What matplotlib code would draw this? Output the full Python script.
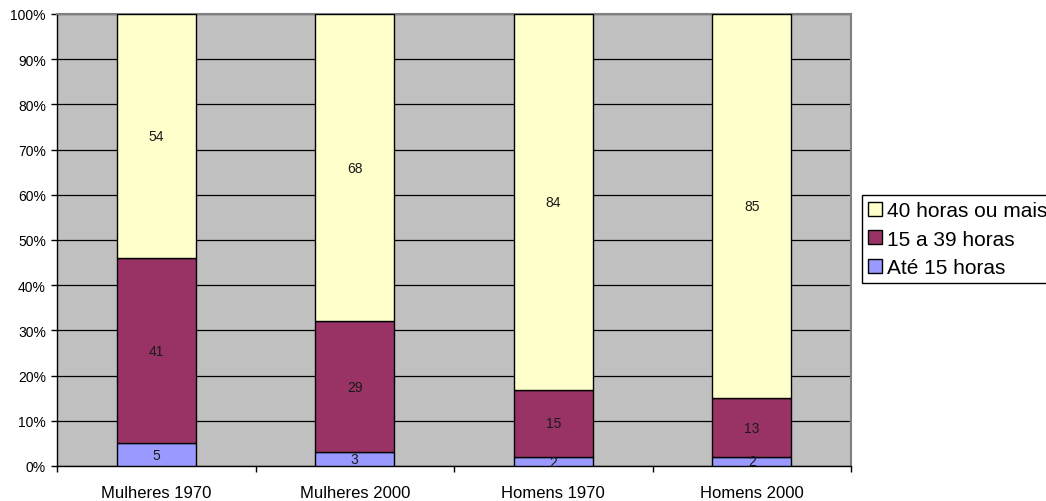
import matplotlib
matplotlib.use("Agg")
import matplotlib.pyplot as plt
import numpy as np

plt.rcParams["font.family"] = ["Liberation Sans", "DejaVu Sans"]

categories = ["Mulheres 1970", "Mulheres 2000", "Homens 1970", "Homens 2000"]
series_names = ["Até 15 horas", "15 a 39 horas", "40 horas ou mais"]
ate_15 = [5, 3, 2, 2]
de_15_a_39 = [41, 29, 15, 13]
mais_40 = [54, 68, 84, 85]
colors = ["#9999FF", "#993366", "#FFFFCC"]

W, H = 1046, 502
fig = plt.figure(figsize=(W / 100, H / 100), dpi=100)
ax = fig.add_axes([57 / W, (H - 467) / H, (851 - 57) / W, (467 - 15) / H])
ax.set_facecolor("#C0C0C0")

data = np.array([ate_15, de_15_a_39, mais_40], dtype=float)
totals = data.sum(axis=0)
shares = data / totals  # 100% stacked, like Excel

x = np.arange(len(categories))
bottom = np.zeros(len(categories))
handles = []
for i, name in enumerate(series_names):
    bars = ax.bar(x, shares[i], 0.4, bottom=bottom, color=colors[i],
                  edgecolor="black", linewidth=1.0, zorder=3, label=name)
    handles.append(bars)
    for xi, b, h, v in zip(x, bottom, shares[i], data[i]):
        ax.text(xi, b + h / 2, f"{int(v)}", ha="center", va="center",
                fontsize=10, color="#1a1a1a", zorder=4)
    bottom += shares[i]

ax.set_xlim(-0.5, len(categories) - 0.5)
ax.set_ylim(0, 1)

yt = np.linspace(0, 1, 11)
ax.set_yticks(yt)
ax.set_yticklabels([f"{int(round(v * 100))}%" for v in yt], fontsize=10)
ax.yaxis.grid(True, color="black", linewidth=0.9, zorder=1)
ax.set_axisbelow(True)
ax.tick_params(axis="y", direction="out", length=4, width=1, pad=4)

ax.set_xticks(np.arange(-0.5, len(categories)), minor=False)
ax.set_xticklabels([])
ax.set_xticks(x, minor=True)
ax.set_xticklabels(categories, minor=True, fontsize=12)
ax.tick_params(axis="x", which="major", direction="out", length=4, width=1)
ax.tick_params(axis="x", which="minor", length=0, pad=14)

for side in ("left", "bottom"):
    ax.spines[side].set_color("black")
    ax.spines[side].set_linewidth(1.0)
for side in ("top", "right"):
    ax.spines[side].set_color("#808080")
    ax.spines[side].set_linewidth(1.5)

# legend runs off the right edge in the original, so let it
leg = fig.legend(handles[::-1], series_names[::-1],
                 loc="upper left", bbox_to_anchor=(862 / W, 1 - 196 / H),
                 fontsize=15, frameon=True, fancybox=False,
                 edgecolor="black", framealpha=1, borderpad=0.3,
                 handlelength=0.67, handleheight=0.67, handletextpad=0.25,
                 labelspacing=0.45, borderaxespad=0)
leg.get_frame().set_linewidth(1.0)

fig.savefig("out.png", dpi=100)
